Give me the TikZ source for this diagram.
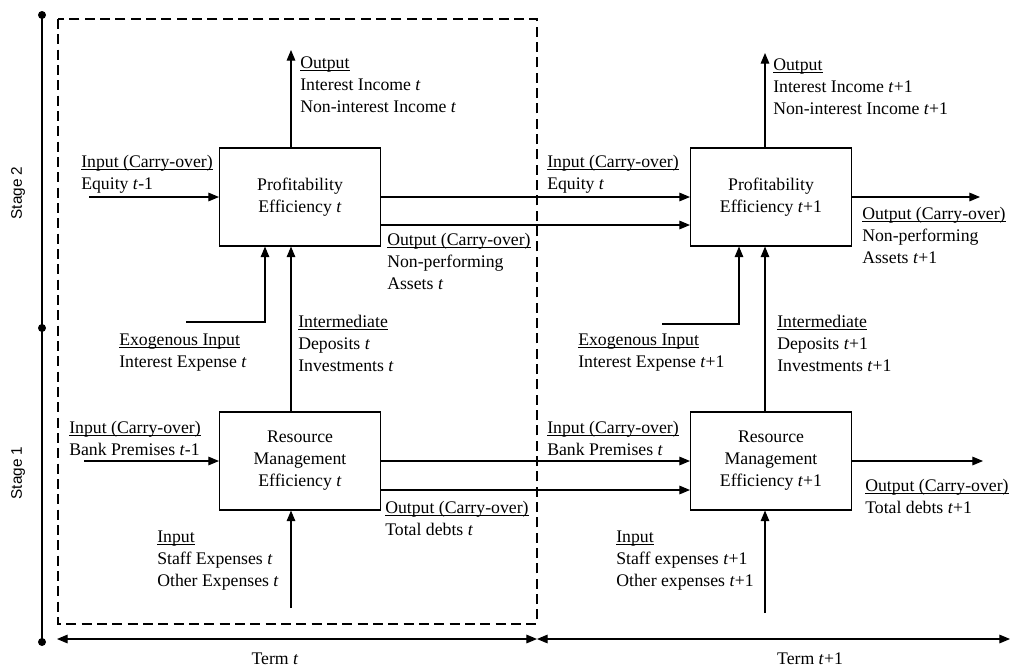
\documentclass[tikz,border=0pt]{standalone}
\usepackage{fontspec}
\setmainfont{Liberation Serif}
\setsansfont{Liberation Sans}
\usetikzlibrary{arrows.meta,positioning,calc}
\tikzset{
 every node/.style={font=\fontsize{13.3pt}{16.5pt}\selectfont},
 box/.style={draw,line width=.8pt,minimum width=120.75pt,minimum height=73.5pt,align=center,inner sep=2pt},
 lbl/.style={anchor=north west,align=left,inner sep=0pt,yshift=11.55pt},
 stage/.style={rotate=90,font=\sffamily\fontsize{11.5pt}{14pt}\selectfont},
 arr/.style={-{Triangle[length=8pt,width=6.5pt]},line width=.8pt},
 span/.style={{Triangle[length=8pt,width=6.5pt]}-{Triangle[length=8pt,width=6.5pt]},line width=.8pt}
}
\begin{document}
\begin{tikzpicture}[x=.75pt,y=-.75pt]
\useasboundingbox (0,0) rectangle (1012,668);
% stages and terms
\draw[line width=.8pt] (42,15) -- (42,642);
\foreach \y in {15,328,642} \fill (42,\y) circle (3pt);
\node[stage] (st2) at (18,193) {Stage 2};
\node[stage] (st1) at (18,473) {Stage 1};
\draw[line width=.8pt,dash pattern=on 7.5pt off 4pt] (58,19) rectangle (537,624);
\coordinate (t0) at (57,639);
\coordinate (t1) at (537,639);
\coordinate (t2) at (1010,639);
\draw[span] (t0) -- (t1);
\draw[span] (t1) -- (t2);
\node (term1) at (275,659) {Term \textit{t}};
\node (term2) at (810,659) {Term \textit{t}+1};
% boxes
\node[box] (P1) at (300,197) {Profitability\\Efficiency \textit{t}};
\node[box] (R1) at (300,461) {Resource\\Management\\Efficiency \textit{t}};
\node[box] (P2) at (771,197) {Profitability\\Efficiency \textit{t}+1};
\node[box] (R2) at (771,461) {Resource\\Management\\Efficiency \textit{t}+1};
% connectors, term t
\coordinate (inP1) at (89,197);
\coordinate (outP1) at (291,50);
\coordinate (exoP1) at (186,322);
\coordinate (inR1) at (84,461);
\coordinate (botR1) at (291,608);
\draw[arr] (inP1) -- (P1);
\draw[arr] (outP1 |- P1.north) -- (outP1);
\draw[arr] (R1.north -| outP1) -- (P1.south -| outP1);
\draw[arr] (exoP1) -| ($(P1.south)+(-35,0)$);
\draw[arr] (inR1) -- (R1);
\draw[arr] (botR1) -- (botR1 |- R1.south);
% connectors, term t+1
\coordinate (outP2) at (765,53);
\coordinate (exoP2) at (662,324);
\coordinate (botR2) at (765,613);
\coordinate (endP2) at (980,197);
\coordinate (endR2) at (983,461);
\draw[arr] (P1) -- (P2);
\draw[arr] ($(P1.east)+(0,28)$) -- ($(P2.west)+(0,28)$);
\draw[arr] (R1) -- (R2);
\draw[arr] ($(R1.east)+(0,29)$) -- ($(R2.west)+(0,29)$);
\draw[arr] (outP2 |- P2.north) -- (outP2);
\draw[arr] (R2.north -| outP2) -- (P2.south -| outP2);
\draw[arr] (exoP2) -| ($(P2.south)+(-32,0)$);
\draw[arr] (botR2) -- (botR2 |- R2.south);
\draw[arr] (P2) -- (endP2);
\draw[arr] (R2) -- (endR2);
% labels
\foreach \n/\x/\y/\head/\body in {
 oP1/300/68/Output/{Interest Income \textit{t}\\Non-interest Income \textit{t}},
 iP1/81/167/Input (Carry-over)/{Equity \textit{t}-1},
 cP1/387/245/Output (Carry-over)/{Non-performing\\Assets \textit{t}},
 xP1/119/345/Exogenous Input/{Interest Expense \textit{t}},
 mR1/298/327/Intermediate/{Deposits \textit{t}\\Investments \textit{t}},
 iR1/69/433/Input (Carry-over)/{Bank Premises \textit{t}-1},
 cR1/385/513/Output (Carry-over)/{Total debts \textit{t}},
 bR1/157/542/Input/{Staff Expenses \textit{t}\\Other Expenses \textit{t}},
 oP2/773/70/Output/{Interest Income \textit{t}+1\\Non-interest Income \textit{t}+1},
 iP2/547/167/Input (Carry-over)/{Equity \textit{t}},
 cP2/862/219/Output (Carry-over)/{Non-performing\\Assets \textit{t}+1},
 xP2/578/345/Exogenous Input/{Interest Expense \textit{t}+1},
 mR2/777/327/Intermediate/{Deposits \textit{t}+1\\Investments \textit{t}+1},
 iR2/547/433/Input (Carry-over)/{Bank Premises \textit{t}},
 cR2/865/491/Output (Carry-over)/{Total debts \textit{t}+1},
 bR2/616/542/Input/{Staff expenses \textit{t}+1\\Other expenses \textit{t}+1}}
 \node[lbl] (\n) at (\x,\y) {\strut\underline{\smash{\head}}\\\body};
\end{tikzpicture}
\end{document}
